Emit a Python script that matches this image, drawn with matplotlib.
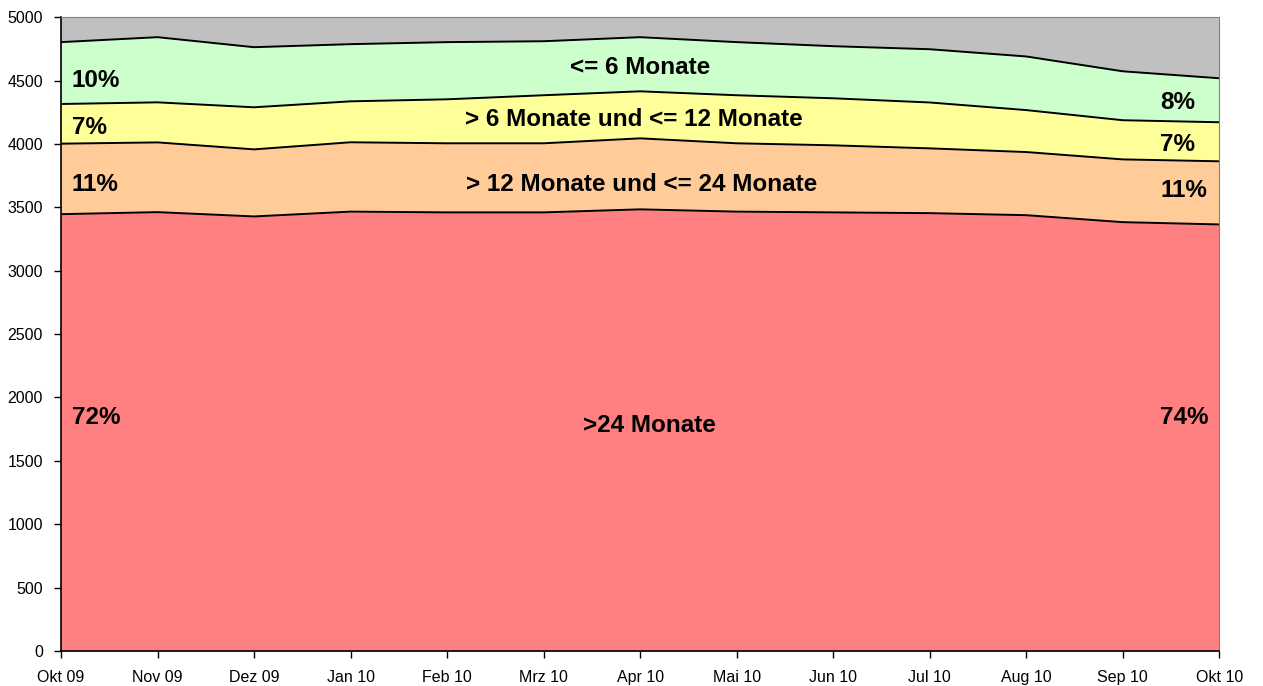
import numpy as np
import matplotlib.pyplot as plt
import matplotlib

matplotlib.rcParams['font.family'] = ['Liberation Sans', 'DejaVu Sans']

monate = ['Okt 09', 'Nov 09', 'Dez 09', 'Jan 10', 'Feb 10', 'Mrz 10', 'Apr 10',
          'Mai 10', 'Jun 10', 'Jul 10', 'Aug 10', 'Sep 10', 'Okt 10']

# Anzahl je Dauer (geschaetzt aus dem Bild)
ueber_24 = [3446, 3462, 3428, 3466, 3460, 3460, 3484, 3466, 3460, 3454, 3438, 3383, 3365]
m12_24 = [556, 550, 529, 547, 545, 545, 560, 539, 529, 511, 498, 495, 498]
m6_12 = [313, 316, 332, 323, 347, 379, 371, 379, 371, 362, 331, 309, 308]
bis_6 = [488, 514, 474, 451, 451, 426, 427, 419, 411, 420, 423, 386, 347]

farben = ['#FF8080', '#FFCC99', '#FFFF99', '#CCFFCC']

fig = plt.figure(figsize=(12.63, 6.86), dpi=100)
ax = fig.add_axes([0.0483, 0.051, 0.917, 0.924])
ax.set_facecolor('#C0C0C0')

x = np.arange(len(monate))
unten = np.zeros(len(monate))
for werte, farbe in zip([ueber_24, m12_24, m6_12, bis_6], farben):
    oben = unten + np.array(werte)
    ax.fill_between(x, unten, oben, color=farbe, linewidth=0)
    ax.plot(x, oben, color='black', linewidth=1.4)
    unten = oben

ax.set_xlim(0, 12)
ax.set_ylim(0, 5000)
ax.set_xticks(x)
ax.set_xticklabels(monate)
ax.set_yticks(np.arange(0, 5001, 500))
ax.tick_params(direction='out', length=5, width=1, labelsize=11.5)
ax.tick_params(axis='x', pad=9)
ax.tick_params(axis='y', pad=8)

for s in ['top', 'right']:
    ax.spines[s].set_color('#808080')
for s in ['left', 'bottom']:
    ax.spines[s].set_color('black')
    ax.spines[s].set_linewidth(1.2)

fd = {'size': 17.5, 'weight': 'bold'}
# Prozente links (Okt 09)
ax.text(0.11, 4502, '10%', fontdict=fd, ha='left', va='center')
ax.text(0.11, 4126, '7%', fontdict=fd, ha='left', va='center')
ax.text(0.11, 3681, '11%', fontdict=fd, ha='left', va='center')
ax.text(0.11, 1840, '72%', fontdict=fd, ha='left', va='center')
# Prozente rechts (Okt 10)
ax.text(11.75, 4328, '8%', fontdict=fd, ha='right', va='center')
ax.text(11.75, 3997, '7%', fontdict=fd, ha='right', va='center')
ax.text(11.88, 3633, '11%', fontdict=fd, ha='right', va='center')
ax.text(11.89, 1840, '74%', fontdict=fd, ha='right', va='center')
# Bezeichnungen
ax.text(6.0, 4605, '<= 6 Monate', fontdict=fd, ha='center', va='center')
ax.text(5.94, 4194, '> 6 Monate und <= 12 Monate', fontdict=fd, ha='center', va='center')
ax.text(6.02, 3681, '> 12 Monate und <= 24 Monate', fontdict=fd, ha='center', va='center')
ax.text(6.1, 1777, '>24 Monate', fontdict=fd, ha='center', va='center')

fig.savefig('out.png', dpi=100)
